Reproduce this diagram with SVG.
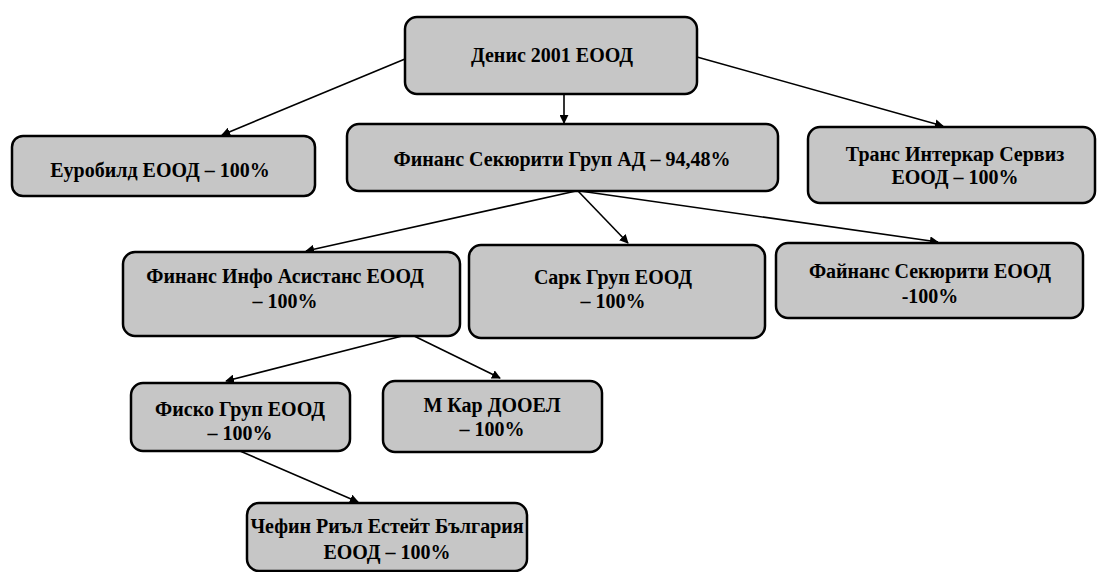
<svg xmlns="http://www.w3.org/2000/svg" width="1100" height="572" viewBox="0 0 1100 572">
<style>
.box{fill:#c6c6c6;stroke:#000;stroke-width:2.5}
.t{font-family:'Liberation Serif','Times New Roman',serif;font-size:20px;font-weight:bold;fill:#000;text-anchor:middle}
.c{stroke:#000;stroke-width:1.6;fill:none;marker-end:url(#ah)}
</style>
<defs>
<marker id="ah" viewBox="0 0 10 10" refX="9" refY="5" markerWidth="9" markerHeight="9" markerUnits="userSpaceOnUse" orient="auto">
<path d="M0,0 L10,5 L0,10 z" fill="#000"/>
</marker>
</defs>
<rect width="1100" height="572" fill="#fff"/>
<g id="connectors">
<line class="c" x1="405" y1="59" x2="222" y2="135"/>
<line class="c" x1="564" y1="94" x2="564" y2="123"/>
<line class="c" x1="697" y1="57" x2="943" y2="126"/>
<line class="c" x1="576" y1="191" x2="306" y2="251"/>
<line class="c" x1="578" y1="191" x2="628" y2="243"/>
<line class="c" x1="580" y1="191" x2="938" y2="242"/>
<line class="c" x1="410" y1="334" x2="226" y2="381"/>
<line class="c" x1="410" y1="334" x2="500" y2="378"/>
<line class="c" x1="240" y1="451" x2="358" y2="502"/>
</g>
<g id="n_denis"><rect class="box" x="405" y="17" width="292" height="77" rx="12"/><text class="t" x="552" y="62">Денис 2001 ЕООД</text></g>
<g id="n_eurobild"><rect class="box" x="12" y="136" width="303" height="60" rx="11"/><text class="t" x="160" y="177">Еуробилд ЕООД – 100%</text></g>
<g id="n_fsg"><rect class="box" x="347" y="124" width="431" height="67" rx="12"/><text class="t" x="562" y="166">Финанс Секюрити Груп АД – 94,48%</text></g>
<g id="n_trans"><rect class="box" x="808" y="127" width="287" height="76" rx="12"/><text class="t" x="955" y="161">Транс Интеркар Сервиз</text><text class="t" x="955" y="184">ЕООД – 100%</text></g>
<g id="n_fia"><rect class="box" x="123" y="252" width="337" height="84" rx="12"/><text class="t" x="285" y="283">Финанс Инфо Асистанс ЕООД</text><text class="t" x="285" y="308">– 100%</text></g>
<g id="n_sark"><rect class="box" x="469" y="245" width="296" height="93" rx="12"/><text class="t" x="613" y="284">Сарк Груп ЕООД</text><text class="t" x="613" y="308">– 100%</text></g>
<g id="n_fainans"><rect class="box" x="776" y="243" width="307" height="75" rx="12"/><text class="t" x="930" y="278">Файнанс Секюрити  ЕООД</text><text class="t" x="930" y="303">-100%</text></g>
<g id="n_fisko"><rect class="box" x="131" y="383" width="219" height="68" rx="12"/><text class="t" x="240" y="416">Фиско Груп ЕООД</text><text class="t" x="240" y="440">– 100%</text></g>
<g id="n_mkar"><rect class="box" x="383" y="381" width="219" height="71" rx="12"/><text class="t" x="492" y="412">М Кар ДООЕЛ</text><text class="t" x="492" y="436">– 100%</text></g>
<g id="n_chefin"><rect class="box" x="247" y="503" width="280" height="68" rx="12"/><text class="t" x="387" y="533">Чефин Риъл Естейт България</text><text class="t" x="387" y="559">ЕООД – 100%</text></g>
</svg>
